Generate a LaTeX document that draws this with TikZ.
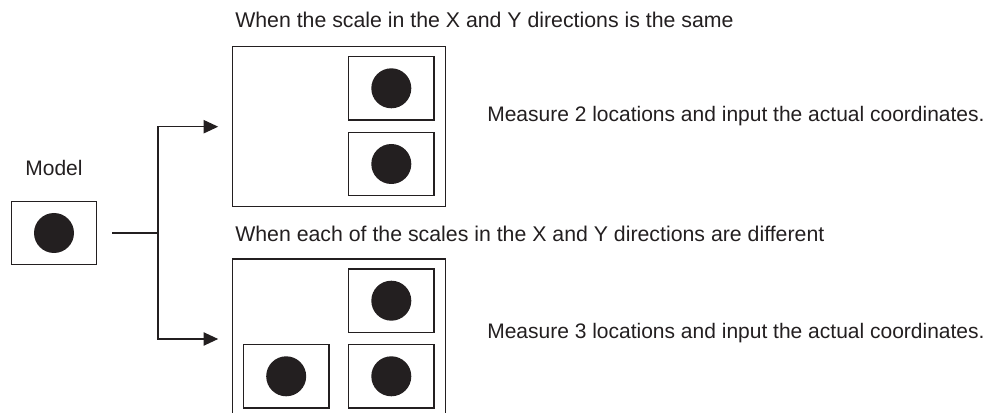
\documentclass[tikz,border=0pt]{standalone}
\usepackage{fontspec}
\setmainfont{Liberation Sans}
\usetikzlibrary{arrows.meta,positioning}
\definecolor{ink}{RGB}{35,31,32}
\tikzset{
  frame/.style={draw=ink, line width=1.1pt, minimum width=159.5pt, minimum height=120pt, inner sep=0pt},
  slot/.style={draw=ink, line width=1.1pt, minimum width=64pt, minimum height=47.6pt, inner sep=0pt},
  dot/.style={circle, fill=ink, minimum size=30pt, inner sep=0pt},
  lbl/.style={anchor=base west, inner sep=0pt, text=ink},
  head/.style={lbl, font=\fontsize{15.97}{19}\selectfont},
  link/.style={draw=ink, line width=1pt},
}
\begin{document}
\begin{tikzpicture}[x=0.75pt, y=-0.75pt, font=\fontsize{15.75}{19}\selectfont, >={Triangle[length=11pt,width=10pt]}]
\useasboundingbox (0,0) rectangle (992,413);
\clip (0,0) rectangle (992,413);
% model
\node[slot] (model) at (54,233) {};
\node[dot] (modeldot) at (model) {};
\node[anchor=base, inner sep=0pt, text=ink] (modeltxt) at (54,176) {Model};
% same scale: 2 locations
\node[head] (sametxt) at (235,28) {When the scale in the X and Y directions is the same};
\node[frame] (same) at (339,126.7) {};
\node[slot] (sameA) at (391.3,88.3) {};
\node[slot] (sameB) at (391.3,164) {};
\node[dot] at (sameA) {};
\node[dot] at (sameB) {};
\node[lbl] (sameinfo) at (487,121.7) {Measure 2 locations and input the actual coordinates.};
% different scales: 3 locations
\node[head] (difftxt) at (235,241.7) {When each of the scales in the X and Y directions are different};
\node[frame] (diff) at (339,339) {};
\node[slot] (diffA) at (391.3,300.7) {};
\node[slot] (diffB) at (391.3,376.3) {};
\node[slot] (diffC) at (286.2,376.3) {};
\node[dot] at (diffA) {};
\node[dot] at (diffB) {};
\node[dot] at (diffC) {};
\node[lbl] (diffinfo) at (487,338) {Measure 3 locations and input the actual coordinates.};
% connectors
\coordinate (fork) at (158,233);
\draw[link] ([xshift=11.25pt]model.east) -- (fork);
\draw[link,->] (fork) |- ([xshift=-10.3pt]same.west);
\draw[link,->] (fork) |- ([xshift=-10.3pt]diff.west);
\end{tikzpicture}
\end{document}
